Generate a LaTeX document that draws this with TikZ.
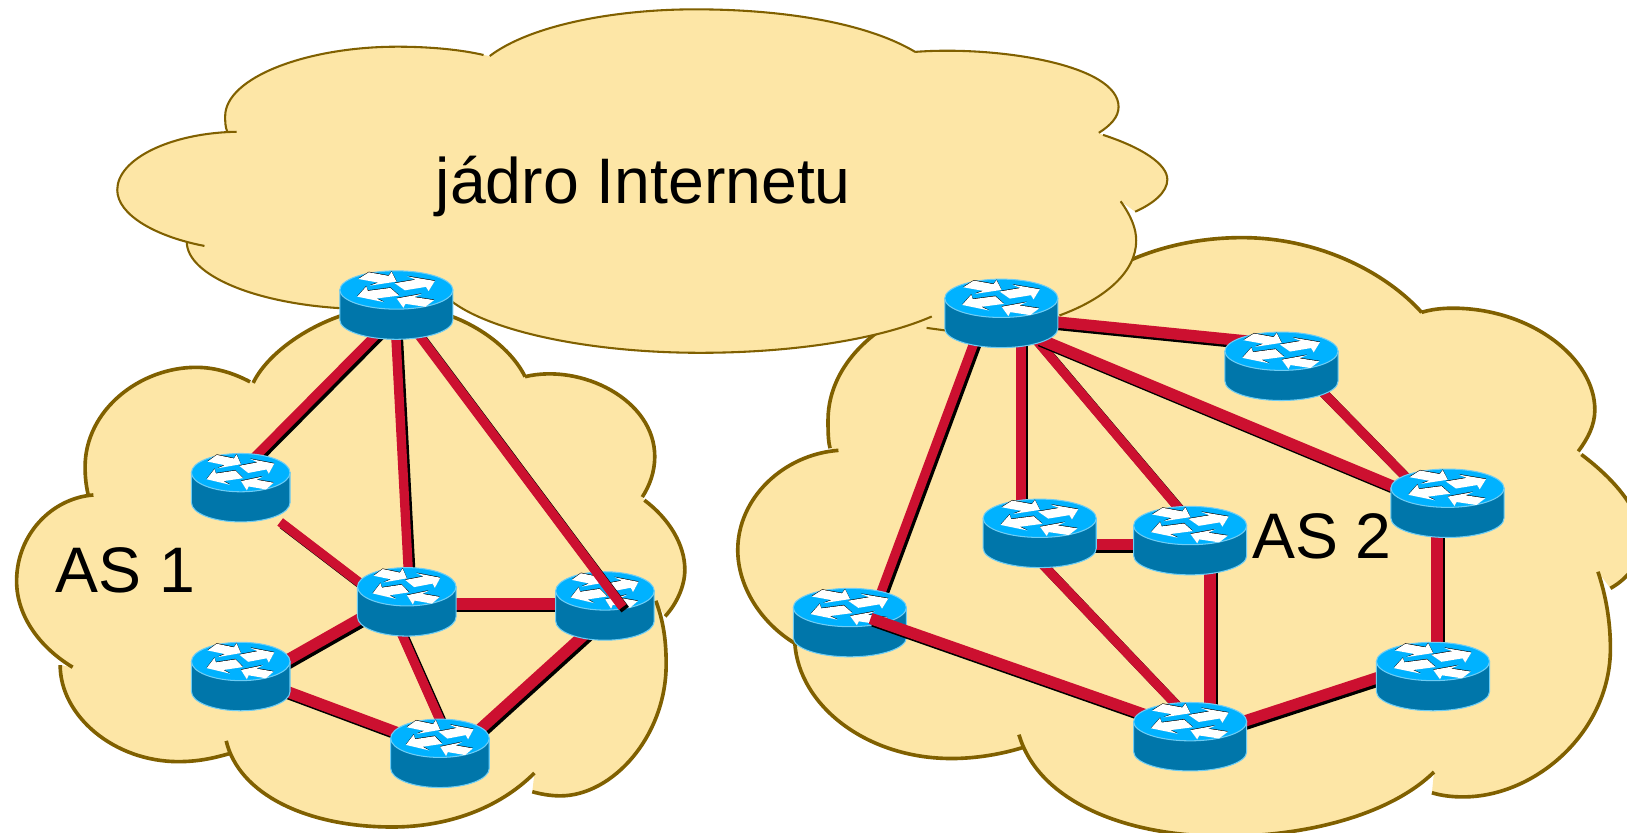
\documentclass[tikz,border=0pt]{standalone}
\usepackage{fontspec}
\setmainfont{Liberation Sans}
\usepackage{tikz}

\definecolor{cloudfill}{RGB}{253,230,166}
\definecolor{cloudline}{RGB}{128,96,0}
\definecolor{linkred}{RGB}{204,16,48}
\definecolor{routertop}{RGB}{0,178,255}
\definecolor{routerside}{RGB}{0,118,170}
\definecolor{routeredge}{RGB}{110,205,245}

% Outline of the clouds, lobe by lobe
\newcommand{\coreA}{(472,54) .. controls (510,25) and (590,9) .. (670,9) .. controls (755,9) and (835,22) .. (882,50)}
\newcommand{\coreB}{(882,50) .. controls (960,44) and (1078,62) .. (1078,103) .. controls (1078,113) and (1070,121) .. (1059,128)}
\newcommand{\coreC}{(1063,130) .. controls (1100,142) and (1125,158) .. (1125,173) .. controls (1125,185) and (1112,196) .. (1094,204)}
\newcommand{\coreD}{(1080,194) .. controls (1090,208) and (1095,220) .. (1095,232) .. controls (1095,262) and (1065,288) .. (1021,304)}
\newcommand{\coreE}{(898,305) .. controls (845,328) and (760,340) .. (675,340) .. controls (570,340) and (475,320) .. (436,291)}
\newcommand{\coreF}{(328,297) .. controls (245,292) and (180,265) .. (180,233)}
\newcommand{\coreG}{(197,237) .. controls (150,228) and (113,207) .. (113,183) .. controls (113,153) and (165,128) .. (228,127)}
\newcommand{\coreH}{(219,127) .. controls (217,122) and (217,117) .. (217,112) .. controls (217,75) and (295,45) .. (383,45) .. controls (415,45) and (445,48) .. (466,53)}

\newcommand{\asoneA}{(244,369) .. controls (260,335) and (320,295) .. (382,295) .. controls (440,295) and (490,330) .. (506,363)}
\newcommand{\asoneB}{(506,363) .. controls (560,350) and (631,385) .. (631,440) .. controls (631,455) and (626,468) .. (619,479)}
\newcommand{\asoneC}{(621,482) .. controls (645,500) and (660,525) .. (660,549) .. controls (660,565) and (652,582) .. (641,594)}
\newcommand{\asoneD}{(632,579) .. controls (640,600) and (642,620) .. (642,640) .. controls (642,710) and (590,767) .. (540,767) .. controls (530,767) and (520,765) .. (513,763)}
\newcommand{\asoneE}{(515,745) .. controls (480,780) and (430,797) .. (378,797) .. controls (295,797) and (230,765) .. (218,714)}
\newcommand{\asoneF}{(222,726) .. controls (205,731) and (190,734) .. (172,734) .. controls (110,734) and (58,690) .. (58,641)}
\newcommand{\asoneG}{(70,643) .. controls (40,625) and (16,595) .. (16,560) .. controls (16,515) and (50,480) .. (90,477)}
\newcommand{\asoneH}{(85,477) .. controls (83,468) and (82,460) .. (82,450) .. controls (82,395) and (135,354) .. (189,354) .. controls (208,354) and (226,360) .. (241,368)}

\newcommand{\astwoA}{(1080,255) .. controls (1115,238) and (1155,229) .. (1197,229) .. controls (1270,229) and (1335,262) .. (1370,301)}
\newcommand{\astwoB}{(1370,301) .. controls (1380,298) and (1390,297) .. (1400,297) .. controls (1475,297) and (1537,345) .. (1537,395) .. controls (1537,410) and (1530,423) .. (1521,435)}
\newcommand{\astwoC}{(1524,438) .. controls (1560,465) and (1582,495) .. (1582,520) .. controls (1582,540) and (1570,557) .. (1552,567)}
\newcommand{\astwoD}{(1540,551) .. controls (1548,575) and (1552,600) .. (1552,625) .. controls (1552,705) and (1480,768) .. (1410,768) .. controls (1400,768) and (1390,767) .. (1380,764)}
\newcommand{\astwoE}{(1382,744) .. controls (1340,785) and (1260,806) .. (1180,806) .. controls (1080,806) and (1000,770) .. (982,708)}
\newcommand{\astwoF}{(987,720) .. controls (965,727) and (940,731) .. (917,731) .. controls (835,731) and (770,680) .. (766,620)}
\newcommand{\astwoG}{(766,620) .. controls (733,600) and (711,565) .. (711,530) .. controls (711,480) and (755,438) .. (808,434)}
\newcommand{\astwoH}{(800,432) .. controls (798,425) and (798,415) .. (798,405) .. controls (798,365) and (825,325) .. (880,300)}

% A link and its shadow
\newcommand{\netlink}[3][linkthin]{
	\draw[#1,black,transform canvas={shift={(2.5,2.5)}}] (#2) -- (#3);
	\draw[#1,linkred] (#2) -- (#3);
}

% The body of a router on its node: name, half width
\newcommand{\routerbody}[2]{
	\begin{scope}[shift={(#1.center)},x=#2,y=0.66cm]
		\fill[routerside,draw=routeredge,line width=0.02cm] (-1,.44) -- (-1,-.44)
			arc[start angle=180,end angle=360,x radius=1,y radius=.56] -- (1,.44) -- cycle;
		\fill[routertop,draw=routeredge,line width=0.02cm] (0,.44) ellipse [x radius=1,y radius=.56];
	\end{scope}
	\begin{scope}[shift={(#1.center)},shift={(0,.29cm)},x=#2,y=#2,yscale={0.37cm/#2}]
		\foreach \tx/\ty/\ang/\len in {-.58/.75/-28/.66,.06/.17/26/.69,-.03/-.09/201/.71,.59/-.70/156/.64} {
			\fill[black,shift={(\tx,\ty+.03)},rotate=\ang,scale=\len]
				(0,-.3) -- (.6,-.3) -- (.52,-.62) -- (1,0) -- (.52,.62) -- (.6,.3) -- (0,.3) -- cycle;
			\fill[white,shift={(\tx,\ty)},rotate=\ang,scale=\len]
				(0,-.3) -- (.6,-.3) -- (.52,-.62) -- (1,0) -- (.52,.62) -- (.6,.3) -- (0,.3) -- cycle;
		}
	\end{scope}
}

\tikzset{
	coreline/.style={draw=cloudline,line width=0.04cm},
	asline/.style={draw=cloudline,line width=0.07cm},
	linkthin/.style={line width=0.18cm},
	linkthick/.style={line width=0.22cm},
	cloudtext/.style={anchor=base,inner sep=0pt,font=\fontsize{35.3}{40}\selectfont},
	router/.style={minimum width=2.18cm,minimum height=1.32cm,inner sep=0pt},
	smallrouter/.style={minimum width=1.9cm,minimum height=1.32cm,inner sep=0pt}
}

\begin{document}
\begin{tikzpicture}[x=0.02cm,y=-0.02cm]
	\useasboundingbox (0,0) rectangle (1568,802);

	% Clouds
	\fill[cloudfill] \asoneA -- \asoneB -- \asoneC -- \asoneD -- \asoneE -- \asoneF -- \asoneG -- \asoneH -- cycle;
	\draw[asline] \asoneA \asoneB \asoneC \asoneD \asoneE \asoneF \asoneG \asoneH;
	\fill[cloudfill] \astwoA -- \astwoB -- \astwoC -- \astwoD -- \astwoE -- \astwoF -- \astwoG -- \astwoH -- cycle;
	\draw[asline] \astwoA \astwoB \astwoC \astwoD \astwoE \astwoF \astwoG \astwoH;
	\fill[cloudfill] \coreA -- \coreB -- \coreC -- \coreD -- \coreE -- \coreF -- \coreG -- \coreH -- cycle;
	\draw[coreline] \coreA \coreB \coreC \coreD \coreE \coreF \coreG \coreH;
	\draw[coreline] (893,316) -- (915,319);

	% Place nodes
	\node [router] (r0) at (382,294) {};
	\node [smallrouter] (a1) at (232,470) {};
	\node [smallrouter] (a2) at (392,580) {};
	\node [smallrouter] (a3) at (583,584) {};
	\node [smallrouter] (a4) at (232,652) {};
	\node [smallrouter] (a5) at (424,726) {};
	\node [router] (b0) at (965,302) {};
	\node [router] (b1) at (1235,353) {};
	\node [router] (b2) at (1395,485) {};
	\node [router] (b3) at (1002,514) {};
	\node [router] (b4) at (1147,521) {};
	\node [router] (b5) at (819,600) {};
	\node [router] (b6) at (1147,710) {};
	\node [router] (b7) at (1381,652) {};

	\node [cloudtext] (core) at (620,196) {jádro Internetu};
	\node [cloudtext] (as1) at (121,571) {AS 1};
	\node [cloudtext] (as2) at (1274,538) {AS 2};

	% Links
	\netlink{[shift={(-15,24)}]r0.center}{[shift={(9,-25)}]a1.center}
	\netlink{[shift={(-1,21)}]r0.center}{[shift={(2,-20)}]a2.center}
	\netlink{[shift={(38,33)}]a1.center}{[shift={(-37,-12)}]a2.center}
	\netlink[linkthick]{[shift={(38,2)}]a2.center}{[shift={(-37,-2)}]a3.center}
	\netlink[linkthick]{[shift={(-34,10)}]a2.center}{[shift={(38,-12)}]a4.center}
	\netlink{[shift={(-8,24)}]a2.center}{[shift={(4,-23)}]a5.center}
	\netlink[linkthick]{[shift={(38,12)}]a4.center}{[shift={(-36,-18)}]a5.center}
	\netlink[linkthick]{[shift={(-18,26)}]a3.center}{[shift={(34,-19)}]a5.center}
	\netlink[linkthick]{[shift={(40,7)}]b0.center}{[shift={(-20,-23)}]b1.center}
	\netlink{[shift={(-24,22)}]b0.center}{[shift={(27,-21)}]b5.center}
	\netlink{[shift={(19,18)}]b0.center}{[shift={(-18,-19)}]b3.center}
	\netlink{[shift={(28,19)}]b0.center}{[shift={(-5,-24)}]b4.center}
	\netlink[linkthick]{[shift={(35,24)}]b0.center}{[shift={(-35,-9)}]b2.center}
	\netlink{[shift={(33,18)}]b1.center}{[shift={(-35,-20)}]b2.center}
	\netlink[linkthick]{[shift={(-10,20)}]b2.center}{[shift={(4,-17)}]b7.center}
	\netlink[linkthick]{[shift={(38,11)}]b3.center}{[shift={(-37,4)}]b4.center}
	\netlink{[shift={(-1,26)}]b3.center}{[shift={(-5,-22)}]b6.center}
	\netlink[linkthick]{[shift={(19,14)}]b4.center}{[shift={(19,-15)}]b6.center}
	\netlink[linkthick]{[shift={(43,-12)}]b6.center}{[shift={(-44,-2)}]b7.center}

	% a3 and b5 go under the links that end on top of them
	\routerbody{a3}{0.95cm}
	\routerbody{b5}{1.09cm}
	\netlink{[shift={(15,20)}]r0.center}{[shift={(17,1)}]a3.center}
	\netlink[linkthick]{[shift={(20,-4)}]b5.center}{[shift={(-40,-20)}]b6.center}

	\foreach \name in {a1,a2,a4,a5} {\routerbody{\name}{0.95cm}}
	\foreach \name in {r0,b0,b1,b2,b3,b4,b6,b7} {\routerbody{\name}{1.09cm}}
\end{tikzpicture}
\end{document}
